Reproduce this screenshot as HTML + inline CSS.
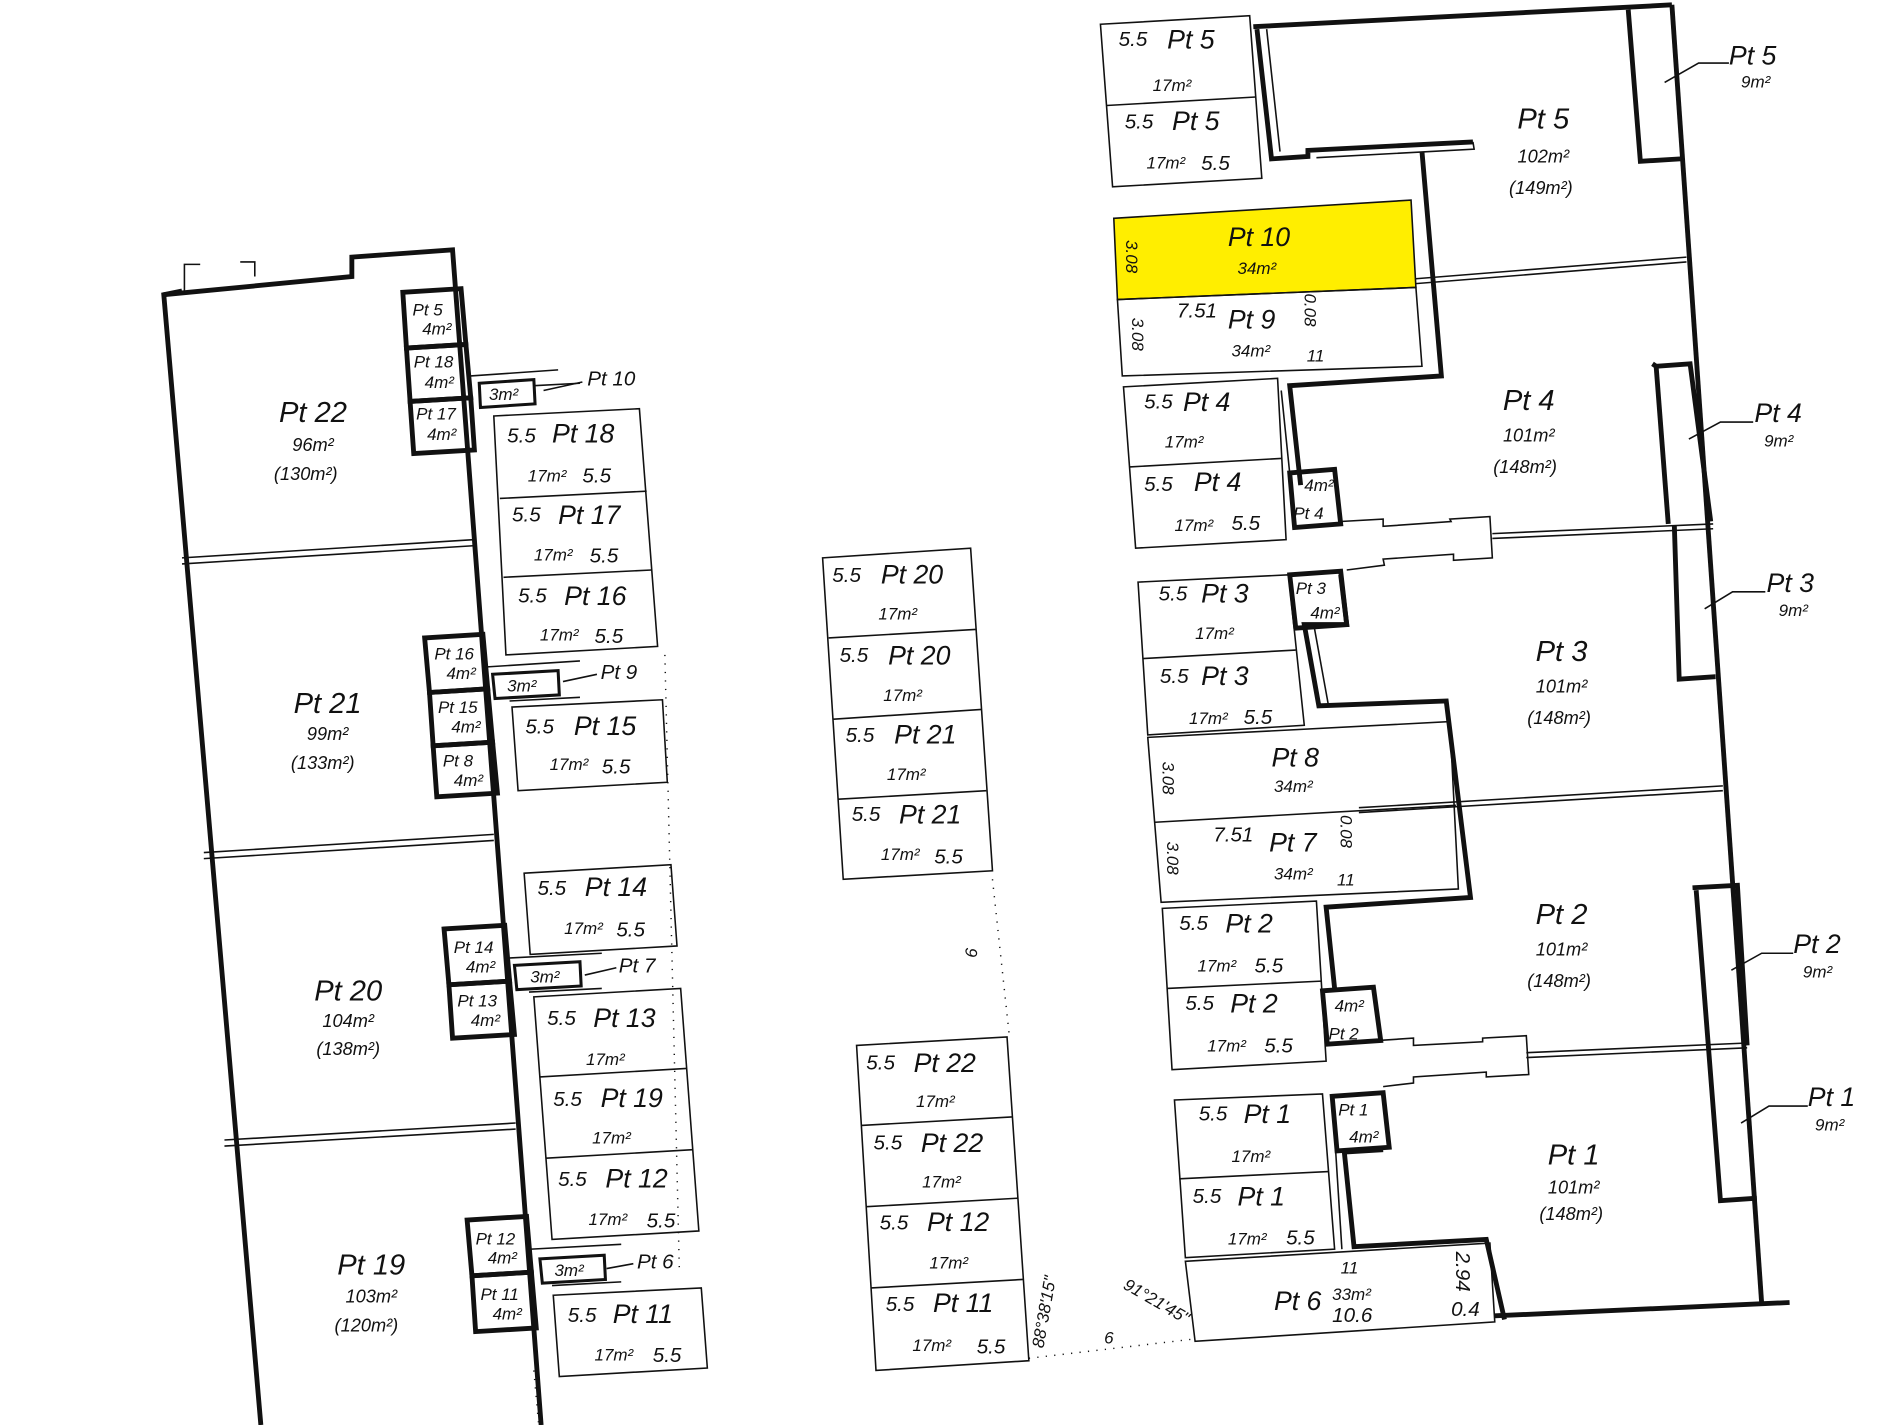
<!DOCTYPE html>
<html><head><meta charset="utf-8"><style>
html,body{margin:0;padding:0;background:#fff;width:1900px;height:1425px;overflow:hidden}
svg{display:block}
text{font-family:"Liberation Sans",sans-serif;font-style:italic;fill:#111}
.t{stroke:#111;stroke-width:1.3;fill:none}
.k{stroke:#111;stroke-width:4;fill:none}
.m{stroke:#111;stroke-width:2.5;fill:none}
.d{stroke:#111;stroke-width:1.2;fill:none;stroke-dasharray:1 6}
.b{font-size:24px}.s{font-size:15px}.p{font-size:22px}.n{font-size:17px}.x{font-size:14px}
</style></head><body>
<svg width="1900" height="1425" viewBox="0 0 1566 1175" preserveAspectRatio="none">
<!-- LEFT BUILDING -->
<polyline class="k" points="150,240 135,243 215,1175"/>
<polyline class="k" points="135,243 290,228 290,212 373,206 446,1175"/>
<polyline class="t" points="152,240 152,218 165,218"/><polyline class="t" points="198,216 210,216 210,228"/>
<line class="t" x1="150" y1="460" x2="390" y2="445"/><line class="t" x1="150" y1="465" x2="390" y2="450"/>
<line class="t" x1="168" y1="703" x2="407" y2="688"/><line class="t" x1="168" y1="708" x2="407" y2="693"/>
<line class="t" x1="185" y1="940" x2="425" y2="926"/><line class="t" x1="185" y1="945" x2="425" y2="931"/>
<text class="b" x="258" y="348" text-anchor="middle">Pt 22</text><text class="s" x="258" y="372" text-anchor="middle">96m²</text><text class="s" x="252" y="396" text-anchor="middle">(130m²)</text>
<text class="b" x="270" y="588" text-anchor="middle">Pt 21</text><text class="s" x="270" y="610" text-anchor="middle">99m²</text><text class="s" x="266" y="634" text-anchor="middle">(133m²)</text>
<text class="b" x="287" y="825" text-anchor="middle">Pt 20</text><text class="s" x="287" y="847" text-anchor="middle">104m²</text><text class="s" x="287" y="870" text-anchor="middle">(138m²)</text>
<text class="b" x="306" y="1051" text-anchor="middle">Pt 19</text><text class="s" x="306" y="1074" text-anchor="middle">103m²</text><text class="s" x="302" y="1098" text-anchor="middle">(120m²)</text>
<g class="k">
<polygon points="332,241 380,238 384,284 335,287"/><polygon points="335,287 384,284 388,328 338,331"/><polygon points="338,331 388,328 391,371 341,374"/>
<polygon points="350,526 398,523 402,568 354,571"/><polygon points="354,571 402,568 406,612 357,615"/><polygon points="357,615 406,612 410,654 360,657"/>
<polygon points="366,766 416,763 420,809 370,812"/><polygon points="370,812 420,809 424,853 373,856"/>
<polygon points="385,1006 434,1003 438,1049 389,1052"/><polygon points="389,1052 438,1049 442,1095 392,1098"/>
</g>
<g class="x">
<text x="340" y="260">Pt 5</text><text x="348" y="276">4m²</text>
<text x="341" y="303">Pt 18</text><text x="350" y="320">4m²</text>
<text x="343" y="346">Pt 17</text><text x="352" y="363">4m²</text>
<text x="358" y="544">Pt 16</text><text x="368" y="560">4m²</text>
<text x="361" y="588">Pt 15</text><text x="372" y="604">4m²</text>
<text x="365" y="632">Pt 8</text><text x="374" y="648">4m²</text>
<text x="374" y="786">Pt 14</text><text x="384" y="802">4m²</text>
<text x="377" y="830">Pt 13</text><text x="388" y="846">4m²</text>
<text x="392" y="1026">Pt 12</text><text x="402" y="1042">4m²</text>
<text x="396" y="1072">Pt 11</text><text x="406" y="1088">4m²</text>
</g>
<g class="m"><polygon points="395,316 440,313 441,333 396,336"/><polygon points="406,556 460,553 461,573 408,576"/><polygon points="424,796 478,793 479,813 426,816"/><polygon points="445,1038 498,1035 499,1055 447,1058"/></g>
<g class="t"><line x1="388" y1="310" x2="460" y2="305"/><line x1="440" y1="318" x2="478" y2="316"/><line x1="400" y1="550" x2="478" y2="545"/><line x1="420" y1="578" x2="478" y2="575"/><line x1="418" y1="790" x2="496" y2="786"/><line x1="436" y1="818" x2="496" y2="815"/><line x1="438" y1="1030" x2="512" y2="1026"/><line x1="455" y1="1060" x2="512" y2="1057"/></g>
<g class="x"><text x="403" y="330">3m²</text><text x="418" y="570">3m²</text><text x="437" y="810">3m²</text><text x="457" y="1052">3m²</text>
<text x="484" y="318" class="n">Pt 10</text><text x="495" y="560" class="n">Pt 9</text><text x="510" y="802" class="n">Pt 7</text><text x="525" y="1046" class="n">Pt 6</text></g>
<g class="t"><line x1="480" y1="315" x2="448" y2="322"/><line x1="492" y1="556" x2="464" y2="562"/><line x1="508" y1="798" x2="482" y2="804"/><line x1="522" y1="1042" x2="500" y2="1046"/></g>
<g class="t">
<polygon points="407,343 527,337 542,533 417,540"/><line x1="412" y1="411" x2="533" y2="405"/><line x1="415" y1="476" x2="537" y2="470"/>
<polygon points="422,583 546,577 550,645 427,652"/>
<polygon points="432,720 553,713 558,780 437,787"/>
<polygon points="440,822 561,815 576,1015 455,1022"/><line x1="445" y1="888" x2="566" y2="881"/><line x1="450" y1="955" x2="571" y2="948"/>
<polygon points="456,1068 578,1062 583,1128 461,1135"/>
<polygon points="678,460 800,452 818,718 695,725"/><line x1="683" y1="526" x2="804" y2="519"/><line x1="687" y1="593" x2="809" y2="585"/><line x1="691" y1="659" x2="813" y2="652"/>
<polygon points="706,862 830,855 848,1122 722,1130"/><line x1="710" y1="928" x2="834" y2="921"/><line x1="714" y1="995" x2="839" y2="988"/><line x1="718" y1="1062" x2="843" y2="1055"/>
</g>
<g>
<text x="418" y="365" class="n">5.5</text><text x="455" y="365" class="p">Pt 18</text><text x="435" y="397" class="x">17m²</text><text x="480" y="398" class="n">5.5</text>
<text x="422" y="430" class="n">5.5</text><text x="460" y="432" class="p">Pt 17</text><text x="440" y="462" class="x">17m²</text><text x="486" y="464" class="n">5.5</text>
<text x="427" y="497" class="n">5.5</text><text x="465" y="499" class="p">Pt 16</text><text x="445" y="528" class="x">17m²</text><text x="490" y="530" class="n">5.5</text>
<text x="433" y="605" class="n">5.5</text><text x="473" y="606" class="p">Pt 15</text><text x="453" y="635" class="x">17m²</text><text x="496" y="638" class="n">5.5</text>
<text x="443" y="738" class="n">5.5</text><text x="482" y="739" class="p">Pt 14</text><text x="465" y="770" class="x">17m²</text><text x="508" y="772" class="n">5.5</text>
<text x="451" y="845" class="n">5.5</text><text x="489" y="847" class="p">Pt 13</text><text x="483" y="878" class="x">17m²</text>
<text x="456" y="912" class="n">5.5</text><text x="495" y="913" class="p">Pt 19</text><text x="488" y="943" class="x">17m²</text>
<text x="460" y="978" class="n">5.5</text><text x="499" y="979" class="p">Pt 12</text><text x="485" y="1010" class="x">17m²</text><text x="533" y="1012" class="n">5.5</text>
<text x="468" y="1090" class="n">5.5</text><text x="505" y="1091" class="p">Pt 11</text><text x="490" y="1122" class="x">17m²</text><text x="538" y="1123" class="n">5.5</text>
<text x="686" y="480" class="n">5.5</text><text x="726" y="481" class="p">Pt 20</text><text x="724" y="511" class="x">17m²</text>
<text x="692" y="546" class="n">5.5</text><text x="732" y="548" class="p">Pt 20</text><text x="728" y="578" class="x">17m²</text>
<text x="697" y="612" class="n">5.5</text><text x="737" y="613" class="p">Pt 21</text><text x="731" y="643" class="x">17m²</text>
<text x="702" y="677" class="n">5.5</text><text x="741" y="679" class="p">Pt 21</text><text x="726" y="709" class="x">17m²</text><text x="770" y="712" class="n">5.5</text>
<text x="714" y="882" class="n">5.5</text><text x="753" y="884" class="p">Pt 22</text><text x="755" y="913" class="x">17m²</text>
<text x="720" y="948" class="n">5.5</text><text x="759" y="950" class="p">Pt 22</text><text x="760" y="979" class="x">17m²</text>
<text x="725" y="1014" class="n">5.5</text><text x="764" y="1015" class="p">Pt 12</text><text x="766" y="1046" class="x">17m²</text>
<text x="730" y="1081" class="n">5.5</text><text x="769" y="1082" class="p">Pt 11</text><text x="752" y="1114" class="x">17m²</text><text x="805" y="1116" class="n">5.5</text>
</g>
<g class="d"><line x1="548" y1="540" x2="560" y2="1050"/><line x1="818" y1="725" x2="832" y2="855"/><line x1="848" y1="1120" x2="985" y2="1104"/><line x1="440" y1="1130" x2="444" y2="1175"/></g>
<g class="x"><text x="805" y="790" transform="rotate(-85 805 790)">6</text><text x="910" y="1108">6</text><text x="860" y="1112" transform="rotate(-80 860 1112)">88°38'15"</text><text x="925" y="1062" transform="rotate(30 925 1062)">91°21'45"</text></g>
<!-- RIGHT BUILDING -->
<line class="k" x1="1033" y1="22" x2="1378" y2="4"/>
<polyline class="k" points="1378,4 1452,1075"/>
<line class="k" x1="1232" y1="1085" x2="1475" y2="1074"/>
<polyline class="k" points="1342,8 1352,133 1385,131"/>
<polyline class="k" points="1036,24 1048,131 1078,129 1078,124 1214,117"/>
<polyline class="t" points="1044,24 1055,125"/>
<polyline class="t" points="1214,117 1215,123 1085,130"/>
<polyline class="k" points="1172,125 1188,310 1063,318 1072,400"/>
<polyline class="t" points="1056,322 1064,400"/>
<line class="t" x1="1090" y1="240" x2="1390" y2="216"/><line class="t" x1="1090" y1="236" x2="1390" y2="212"/>
<polyline class="k" points="1362,300 1365,302 1393,300 1410,430"/>
<line class="k" x1="1365" y1="302" x2="1375" y2="432"/>
<g class="k"><polygon points="1063,390 1100,387 1105,432 1067,435"/><polygon points="1063,474 1105,471 1110,515 1068,518"/><polygon points="1090,817 1132,814 1138,858 1094,861"/><polygon points="1098,904 1140,901 1145,946 1102,949"/></g>
<g class="x"><text x="1075" y="405">4m²</text><text x="1066" y="428">Pt 4</text><text x="1068" y="490">Pt 3</text><text x="1080" y="510">4m²</text><text x="1100" y="834">4m²</text><text x="1095" y="857">Pt 2</text><text x="1103" y="920">Pt 1</text><text x="1112" y="942">4m²</text></g>
<g class="t">
<polyline points="1105,430 1140,428 1140,434 1196,430 1195,428 1228,426 1230,460 1198,462 1198,457 1140,461 1141,466 1110,470"/>
<line x1="1230" y1="440" x2="1412" y2="432"/><line x1="1230" y1="444" x2="1412" y2="436"/>
<polyline points="1135,858 1165,856 1165,862 1222,859 1222,856 1258,854 1260,886 1225,888 1225,884 1165,888 1165,893 1140,896"/>
<line x1="1258" y1="868" x2="1440" y2="860"/><line x1="1258" y1="872" x2="1440" y2="864"/>
<line x1="1120" y1="666" x2="1420" y2="648"/><line x1="1120" y1="670" x2="1420" y2="652"/>
</g>
<polyline class="k" points="1105,474 1110,515 1075,515 1087,582 1192,578 1212,740 1093,748 1100,815"/>
<line class="t" x1="1083" y1="516" x2="1095" y2="582"/>
<polyline class="k" points="1140,948 1108,950 1116,1028 1225,1022 1240,1088"/>
<polyline class="t" points="1098,904 1106,1030"/>
<polyline class="k" points="1380,433 1384,560 1414,558"/>
<polyline class="k" points="1395,732 1432,730 1440,862"/><line class="k" x1="1398" y1="734" x2="1408" y2="862"/>
<polyline class="k" points="1408,862 1418,990 1448,988"/>
<g class="t"><polyline points="1372,68 1400,52 1425,52"/><polyline points="1392,362 1418,348 1445,348"/><polyline points="1405,502 1428,488 1455,488"/><polyline points="1427,800 1452,786 1478,786"/><polyline points="1435,926 1458,912 1490,912"/></g>
<g><text x="1425" y="53" class="p">Pt 5</text><text x="1435" y="72" class="x">9m²</text>
<text x="1446" y="348" class="p">Pt 4</text><text x="1454" y="368" class="x">9m²</text>
<text x="1456" y="488" class="p">Pt 3</text><text x="1466" y="508" class="x">9m²</text>
<text x="1478" y="786" class="p">Pt 2</text><text x="1486" y="806" class="x">9m²</text>
<text x="1490" y="912" class="p">Pt 1</text><text x="1496" y="932" class="x">9m²</text></g>
<g text-anchor="middle"><text x="1272" y="106" class="b">Pt 5</text><text x="1272" y="134" class="s">102m²</text><text x="1270" y="160" class="s">(149m²)</text>
<text x="1260" y="338" class="b">Pt 4</text><text x="1260" y="364" class="s">101m²</text><text x="1257" y="390" class="s">(148m²)</text>
<text x="1287" y="545" class="b">Pt 3</text><text x="1287" y="571" class="s">101m²</text><text x="1285" y="597" class="s">(148m²)</text>
<text x="1287" y="762" class="b">Pt 2</text><text x="1287" y="788" class="s">101m²</text><text x="1285" y="814" class="s">(148m²)</text>
<text x="1297" y="960" class="b">Pt 1</text><text x="1297" y="984" class="s">101m²</text><text x="1295" y="1006" class="s">(148m²)</text></g>
<polygon points="918,180 1163,165 1167,237 921,247" fill="#ffee00" stroke="#111" stroke-width="1.3"/>
<g class="t">
<polygon points="907,20 1030,13 1040,147 917,154"/><line x1="912" y1="87" x2="1035" y2="80"/>
<polygon points="921,247 1167,237 1172,302 925,310"/>
<polygon points="926,319 1053,312 1060,445 936,452"/><line x1="931" y1="385" x2="1056" y2="378"/>
<polygon points="938,480 1062,474 1075,598 946,606"/><line x1="942" y1="543" x2="1068" y2="536"/>
<polygon points="946,608 1195,595 1202,733 957,744"/><line x1="952" y1="678" x2="1200" y2="664"/>
<polygon points="958,749 1085,743 1093,875 966,882"/><line x1="962" y1="815" x2="1089" y2="809"/>
<polygon points="968,907 1090,902 1100,1030 977,1037"/><line x1="972" y1="972" x2="1095" y2="966"/>
<polygon points="977,1040 1228,1025 1232,1090 985,1106"/>
</g>
<g>
<text x="922" y="38" class="n">5.5</text><text x="962" y="40" class="p">Pt 5</text><text x="950" y="75" class="x">17m²</text>
<text x="927" y="106" class="n">5.5</text><text x="966" y="107" class="p">Pt 5</text><text x="945" y="139" class="x">17m²</text><text x="990" y="140" class="n">5.5</text>
<text x="1012" y="203" class="p">Pt 10</text><text x="1020" y="226" class="x">34m²</text>
<text x="970" y="262" class="n">7.51</text><text x="1012" y="271" class="p">Pt 9</text><text x="1015" y="294" class="x">34m²</text><text x="1077" y="298" class="x">11</text>
<text x="943" y="337" class="n">5.5</text><text x="975" y="339" class="p">Pt 4</text><text x="960" y="369" class="x">17m²</text>
<text x="943" y="405" class="n">5.5</text><text x="984" y="405" class="p">Pt 4</text><text x="968" y="438" class="x">17m²</text><text x="1015" y="437" class="n">5.5</text>
<text x="955" y="495" class="n">5.5</text><text x="990" y="497" class="p">Pt 3</text><text x="985" y="527" class="x">17m²</text>
<text x="956" y="563" class="n">5.5</text><text x="990" y="565" class="p">Pt 3</text><text x="980" y="597" class="x">17m²</text><text x="1025" y="597" class="n">5.5</text>
<text x="1048" y="632" class="p">Pt 8</text><text x="1050" y="653" class="x">34m²</text>
<text x="1000" y="694" class="n">7.51</text><text x="1046" y="702" class="p">Pt 7</text><text x="1050" y="725" class="x">34m²</text><text x="1102" y="730" class="x">11</text>
<text x="972" y="767" class="n">5.5</text><text x="1010" y="769" class="p">Pt 2</text><text x="987" y="801" class="x">17m²</text><text x="1034" y="802" class="n">5.5</text>
<text x="977" y="833" class="n">5.5</text><text x="1014" y="835" class="p">Pt 2</text><text x="995" y="867" class="x">17m²</text><text x="1042" y="868" class="n">5.5</text>
<text x="988" y="924" class="n">5.5</text><text x="1025" y="926" class="p">Pt 1</text><text x="1015" y="958" class="x">17m²</text>
<text x="983" y="992" class="n">5.5</text><text x="1020" y="994" class="p">Pt 1</text><text x="1012" y="1026" class="x">17m²</text><text x="1060" y="1026" class="n">5.5</text>
<text x="1050" y="1080" class="p">Pt 6</text><text x="1098" y="1072" class="x">33m²</text><text x="1098" y="1090" class="n">10.6</text><text x="1105" y="1050" class="x">11</text><text x="1196" y="1085" class="n">0.4</text>
<text x="1200" y="1032" class="n" transform="rotate(90 1200 1032)">2.94</text>
<text x="928" y="198" class="x" transform="rotate(90 928 198)">3.08</text>
<text x="933" y="262" class="x" transform="rotate(90 933 262)">3.08</text>
<text x="958" y="628" class="x" transform="rotate(90 958 628)">3.08</text>
<text x="962" y="694" class="x" transform="rotate(90 962 694)">3.08</text>
<text x="1075" y="242" class="x" transform="rotate(90 1075 242)">0.08</text>
<text x="1105" y="672" class="x" transform="rotate(90 1105 672)">0.08</text>
</g>
</svg>
</body></html>
